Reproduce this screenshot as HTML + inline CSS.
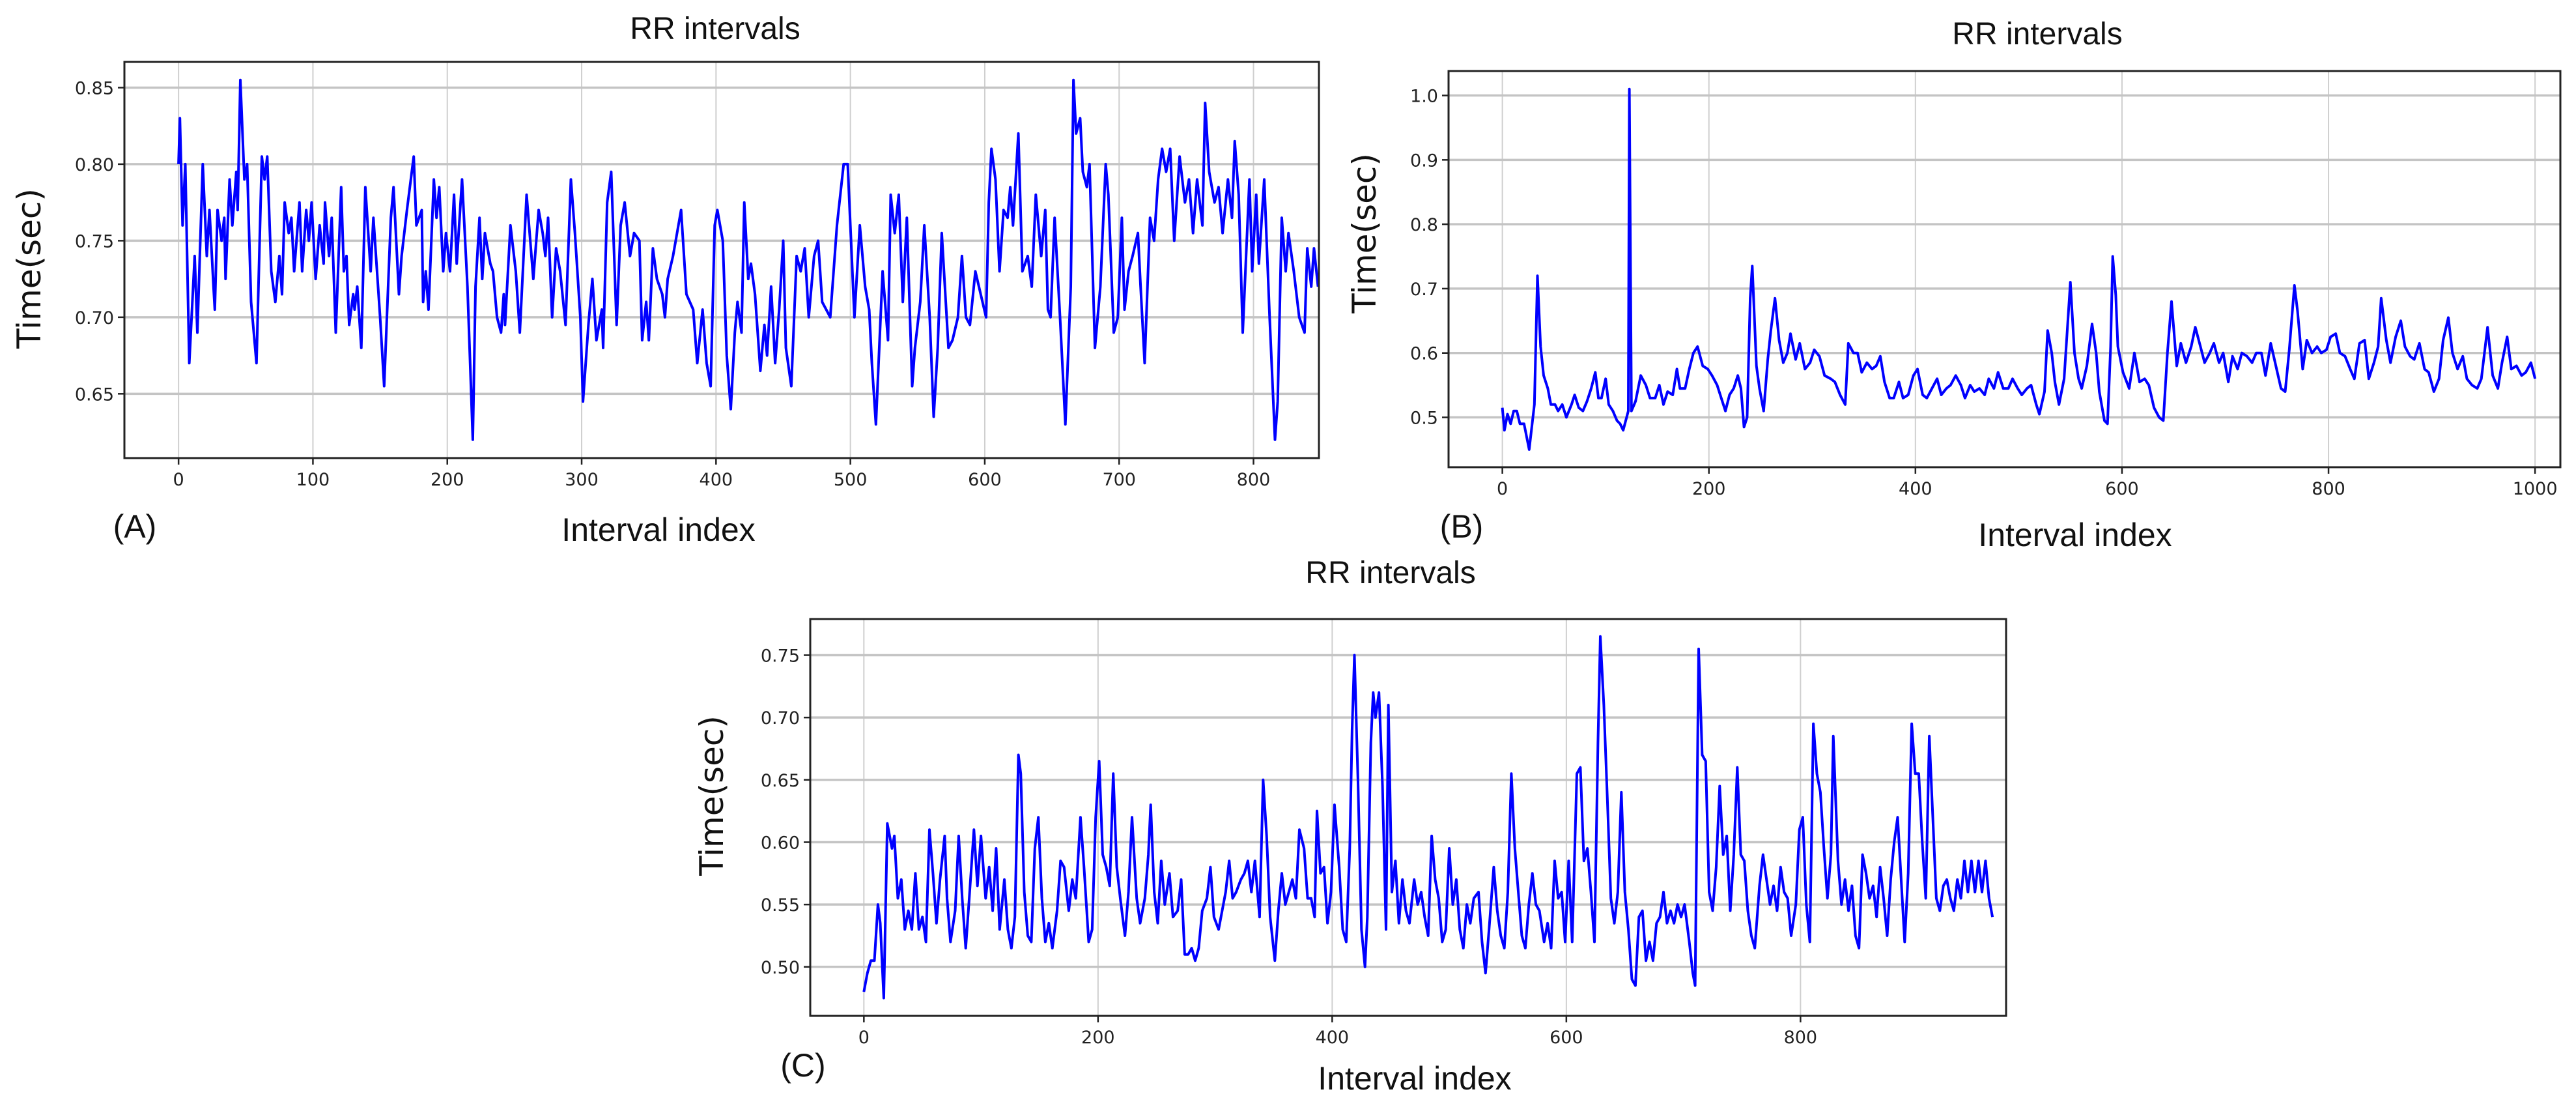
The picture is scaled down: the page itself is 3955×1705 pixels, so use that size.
<!DOCTYPE html>
<html><head><meta charset="utf-8">
<style>
html,body{margin:0;padding:0;background:#fff;}
svg{display:block;}
</style></head>
<body>
<svg id="fig" width="3955" height="1705" viewBox="0 0 3955 1705" xmlns="http://www.w3.org/2000/svg"></svg>
<script>
// ---- Panel A data ----
const idxA=[0,1,3,5,8,12,14,18,21,23,26,27,29,32,34,35,38,40,43,44,46,49,51,54,58,62,64,66,69,72,75,77,79,82,84,86,90,92,95,97,99,102,105,108,109,112,114,117,121,123,125,127,130,131,133,136,139,143,145,150,153,158,160,164,166,170,175,177,181,182,184,186,190,192,194,197,199,202,205,207,211,215,219,221,224,226,228,232,234,237,240,242,243,247,251,254,259,264,268,271,273,275,278,281,284,288,292,295,299,301,305,308,311,315,316,319,322,326,329,332,336,339,343,345,348,350,353,356,360,362,364,368,371,374,378,383,386,390,393,396,399,401,405,408,411,414,416,419,421,424,426,429,433,436,438,441,444,447,450,452,456,460,463,466,469,473,476,479,482,485,490,495,498,500,503,507,511,514,516,519,524,528,530,533,536,539,542,546,548,552,555,559,562,565,568,573,576,580,583,586,589,593,597,601,603,605,608,611,614,617,619,621,625,628,632,635,638,642,645,647,649,652,656,660,664,666,668,671,673,676,678,682,686,690,692,696,699,702,704,707,710,714,716,719,723,726,729,732,735,738,741,745,749,752,755,758,762,764,767,771,774,777,781,784,786,789,792,797,799,802,804,808,812,816,818,821,824,826,830,834,838,840,843,845,848];
const valA=[.80,.83,.76,.80,.67,.74,.69,.80,.74,.77,.72,.705,.77,.75,.765,.725,.79,.76,.795,.77,.855,.79,.80,.71,.67,.805,.79,.805,.73,.71,.74,.715,.775,.755,.765,.73,.775,.73,.77,.75,.775,.725,.76,.735,.775,.74,.765,.69,.785,.73,.74,.695,.715,.705,.72,.68,.785,.73,.765,.70,.655,.765,.785,.715,.74,.77,.805,.76,.77,.71,.73,.705,.79,.765,.785,.73,.755,.73,.78,.735,.79,.72,.62,.72,.765,.725,.755,.735,.73,.70,.69,.715,.695,.76,.73,.69,.78,.725,.77,.755,.74,.765,.70,.745,.73,.695,.79,.755,.70,.645,.695,.725,.685,.705,.68,.775,.795,.695,.76,.775,.74,.755,.75,.685,.71,.685,.745,.725,.715,.70,.725,.74,.755,.77,.715,.705,.67,.705,.67,.655,.76,.77,.75,.675,.64,.69,.71,.69,.775,.725,.735,.715,.665,.695,.675,.72,.67,.705,.75,.68,.655,.74,.73,.745,.70,.74,.75,.71,.705,.70,.76,.80,.80,.76,.70,.76,.72,.705,.67,.63,.73,.685,.78,.755,.78,.71,.765,.655,.68,.71,.76,.70,.635,.68,.755,.68,.685,.70,.74,.70,.695,.73,.715,.70,.775,.81,.79,.73,.77,.765,.785,.76,.82,.73,.74,.72,.78,.74,.77,.705,.70,.765,.70,.63,.72,.855,.82,.83,.795,.785,.80,.68,.72,.80,.78,.69,.70,.765,.705,.73,.74,.755,.72,.67,.765,.75,.79,.81,.795,.81,.75,.805,.775,.79,.755,.79,.76,.84,.795,.775,.785,.755,.79,.765,.815,.78,.69,.79,.73,.78,.735,.79,.70,.62,.645,.765,.73,.755,.73,.70,.69,.745,.72,.745,.72];
const ticksAx=[0,100,200,300,400,500,600,700,800];
const ticksAy=[0.65,0.70,0.75,0.80,0.85];
const labelsAy=["0.65","0.70","0.75","0.80","0.85"];

// ---- Panel B data ----
const idxB=[0,2,5,8,11,14,17,21,26,31,34,37,40,44,47,51,54,58,62,67,70,74,78,82,86,90,93,96,100,103,107,111,114,117,122,123,125,129,134,139,143,148,152,156,160,165,169,172,177,181,185,189,194,199,203,208,212,216,220,224,228,231,234,237,240,242,246,249,253,257,260,264,268,272,276,279,284,288,293,298,302,307,312,318,322,327,332,335,340,344,348,353,358,362,366,370,375,379,384,388,393,398,402,407,411,416,421,425,430,434,439,444,448,453,457,462,467,471,476,480,485,490,494,499,503,508,512,517,520,525,528,532,535,539,544,550,554,558,561,566,571,575,578,583,586,589,591,594,596,601,607,612,617,622,626,631,636,640,644,648,653,657,662,667,671,676,680,685,689,694,698,703,707,712,716,721,726,730,735,739,744,749,754,758,762,767,770,775,779,784,789,793,798,802,807,811,816,821,825,830,835,839,844,848,851,856,860,865,870,874,879,883,888,893,897,902,907,911,916,920,925,930,934,939,944,948,954,959,964,968,973,977,982,987,991,996,1000];
const valB=[.515,.48,.505,.49,.51,.51,.49,.49,.45,.52,.72,.61,.565,.545,.52,.52,.51,.52,.50,.52,.535,.515,.51,.525,.545,.57,.53,.53,.56,.52,.51,.495,.49,.48,.51,1.01,.51,.525,.565,.55,.53,.53,.55,.52,.54,.535,.575,.545,.545,.575,.60,.61,.58,.575,.565,.55,.53,.51,.535,.545,.565,.545,.485,.50,.685,.735,.58,.545,.51,.59,.635,.685,.62,.585,.60,.63,.59,.615,.575,.585,.605,.595,.565,.56,.555,.535,.52,.615,.60,.60,.57,.585,.575,.58,.595,.555,.53,.53,.555,.53,.535,.565,.575,.535,.53,.545,.56,.535,.545,.55,.565,.55,.53,.55,.54,.545,.535,.56,.545,.57,.545,.545,.56,.545,.535,.545,.55,.52,.505,.54,.635,.60,.555,.52,.56,.71,.60,.56,.545,.58,.645,.60,.54,.495,.49,.61,.75,.69,.61,.57,.545,.60,.555,.56,.55,.515,.50,.495,.60,.68,.58,.615,.585,.61,.64,.61,.585,.60,.615,.585,.60,.555,.595,.575,.60,.595,.585,.60,.60,.565,.615,.58,.545,.54,.605,.705,.665,.575,.62,.60,.61,.60,.605,.625,.63,.60,.595,.575,.56,.615,.62,.56,.585,.61,.685,.62,.585,.625,.65,.61,.595,.59,.615,.575,.57,.54,.56,.62,.655,.60,.575,.595,.56,.55,.545,.56,.64,.565,.545,.585,.625,.575,.58,.565,.57,.585,.56];
const ticksBx=[0,200,400,600,800,1000];
const ticksBy=[0.5,0.6,0.7,0.8,0.9,1.0];
const labelsBy=["0.5","0.6","0.7","0.8","0.9","1.0"];

// ---- Panel C data ----
const idxC=[0,3,6,9,12,14,17,20,24,26,29,32,35,38,41,44,47,50,53,56,59,62,65,69,71,74,78,81,84,87,90,94,97,100,104,107,110,113,116,120,123,126,129,132,134,137,140,143,146,149,152,155,158,161,165,168,171,175,178,181,185,188,192,195,198,201,204,207,210,213,216,219,223,226,229,233,236,240,243,245,248,251,254,257,261,264,268,271,274,277,280,283,286,289,293,296,299,303,306,309,312,315,318,322,325,328,331,334,338,341,344,347,351,354,357,360,363,366,369,372,376,379,382,385,387,390,393,396,399,402,406,409,412,415,417,419,422,425,428,430,433,435,437,440,443,446,448,451,454,457,460,463,466,470,473,476,479,482,485,488,491,494,497,500,503,506,509,512,515,518,521,525,528,531,534,538,541,544,547,550,553,556,559,562,565,568,571,574,577,581,584,587,590,593,596,599,602,605,609,612,615,618,621,624,627,629,632,635,638,641,644,647,650,653,656,659,662,665,668,671,674,677,680,683,686,689,692,695,698,701,705,708,710,713,716,719,722,725,728,731,734,737,740,743,746,749,752,755,758,761,765,768,771,774,777,780,783,786,789,792,796,799,802,805,808,811,814,817,820,823,826,828,832,835,838,841,844,847,850,853,856,859,862,865,868,871,874,877,880,883,886,889,892,895,898,901,904,907,910,913,916,919,922,925,928,931,934,937,940,943,946,949,952,955,958,961,964];
const valC=[.48,.495,.505,.505,.55,.535,.475,.615,.595,.605,.555,.57,.53,.545,.53,.575,.53,.54,.52,.61,.575,.535,.57,.605,.555,.52,.545,.605,.555,.515,.555,.61,.565,.605,.555,.58,.545,.595,.53,.57,.53,.515,.54,.67,.655,.56,.525,.52,.595,.62,.555,.52,.535,.515,.545,.585,.58,.545,.57,.555,.62,.58,.52,.53,.62,.665,.59,.58,.565,.655,.58,.555,.525,.56,.62,.555,.535,.555,.59,.63,.56,.535,.585,.55,.575,.54,.545,.57,.51,.51,.515,.505,.515,.545,.555,.58,.54,.53,.545,.56,.585,.555,.56,.57,.575,.585,.56,.585,.54,.65,.605,.54,.505,.545,.575,.55,.56,.57,.555,.61,.595,.555,.555,.54,.625,.575,.58,.535,.56,.63,.58,.53,.52,.595,.69,.75,.65,.53,.50,.54,.68,.72,.70,.72,.645,.53,.71,.56,.585,.535,.57,.545,.535,.57,.55,.56,.54,.525,.605,.57,.555,.52,.53,.595,.55,.57,.53,.515,.55,.535,.555,.56,.52,.495,.53,.58,.545,.525,.515,.56,.655,.595,.56,.525,.515,.55,.575,.55,.545,.52,.535,.515,.585,.555,.56,.52,.585,.52,.655,.66,.585,.595,.56,.52,.68,.765,.71,.635,.555,.535,.56,.64,.56,.53,.49,.485,.54,.545,.505,.52,.505,.535,.54,.56,.535,.545,.535,.55,.54,.55,.52,.495,.485,.755,.67,.665,.56,.545,.58,.645,.59,.605,.545,.59,.66,.59,.585,.545,.525,.515,.565,.59,.57,.55,.565,.545,.58,.56,.555,.525,.55,.61,.62,.55,.52,.695,.655,.64,.595,.555,.59,.685,.585,.55,.57,.545,.565,.525,.515,.59,.575,.555,.565,.54,.58,.555,.525,.57,.60,.62,.57,.52,.575,.695,.655,.655,.60,.555,.685,.62,.555,.545,.565,.57,.555,.545,.57,.555,.585,.56,.585,.56,.585,.56,.585,.555,.54];
const ticksCx=[0,200,400,600,800];
const ticksCy=[0.50,0.55,0.60,0.65,0.70,0.75];
const labelsCy=["0.50","0.55","0.60","0.65","0.70","0.75"];

const NS="http://www.w3.org/2000/svg";
const svg=document.getElementById('fig');
function mk(tag,attrs,parent){const e=document.createElementNS(NS,tag);for(const k in attrs)e.setAttribute(k,attrs[k]);(parent||svg).appendChild(e);return e;}

function panel(p){
  const g=mk('g',{});
  
  
  const sx=v=>p.L+(v-p.x0)/(p.x1-p.x0)*(p.R-p.L);
  const sy=v=>p.B-(v-p.y0)/(p.y1-p.y0)*(p.B-p.T);
  p.tx.forEach(t=>{const l=mk('line',{x1:sx(t),x2:sx(t),y1:p.T,y2:p.B,stroke:'#cfcfcf','stroke-width':2},g);
    });
  p.ty.forEach(t=>{const l=mk('line',{x1:p.L,x2:p.R,y1:sy(t),y2:sy(t),stroke:'#c4c4c4','stroke-width':3.5},g);
    });
  const d=p.xs.map((x,i)=>(i?'L':'M')+sx(x).toFixed(1)+' '+sy(p.ys[i]).toFixed(1)).join(' ');
  const path=mk('path',{d:d,fill:'none',stroke:'#0000ff','stroke-width':4,'stroke-linejoin':'round'},g);
  
  
  const fr=mk('rect',{x:p.L,y:p.T,width:p.R-p.L,height:p.B-p.T,fill:'none',stroke:'#222','stroke-width':3},g);
  
  p.tx.forEach(t=>{mk('line',{x1:sx(t),x2:sx(t),y1:p.B,y2:p.B+10,stroke:'#222','stroke-width':2.5},g);
    const tt=mk('text',{x:sx(t),y:p.B+42,'text-anchor':'middle','font-family':'"DejaVu Sans",sans-serif','font-size':27,fill:'#222'},g);
    tt.textContent=t;});
  p.ty.forEach((t,i)=>{mk('line',{x1:p.L-10,x2:p.L,y1:sy(t),y2:sy(t),stroke:'#222','stroke-width':2.5},g);
    const tt=mk('text',{x:p.L-16,y:sy(t)+10,'text-anchor':'end','font-family':'"DejaVu Sans",sans-serif','font-size':27,fill:'#222'},g);
    tt.textContent=p.ly[i];});
  const ti=mk('text',{x:p.titleX,y:p.titleY,'text-anchor':'middle','font-family':'"Liberation Sans",sans-serif','font-size':48,fill:'#111'},g);
  ti.textContent='RR intervals';
  const xl=mk('text',{x:p.xlX,y:p.xlY,'text-anchor':'middle','font-family':'"Liberation Sans",sans-serif','font-size':50,fill:'#111'},g);
  xl.textContent='Interval index';
  const yl=mk('text',{x:p.ylX,y:p.ylY,'text-anchor':'middle','font-family':'"DejaVu Sans",sans-serif','font-size':50,fill:'#111',transform:`rotate(-90 ${p.ylX} ${p.ylY})`},g);
  yl.textContent='Time(sec)';
  const pl=mk('text',{x:p.plX,y:p.plY,'text-anchor':'middle','font-family':'"Liberation Sans",sans-serif','font-size':50,fill:'#111'},g);
  pl.textContent=p.plabel;
}

panel({name:'panel-a',L:191,R:2025,T:95,B:703,x0:-40.3,x1:848.7,y0:0.608,y1:0.8668,xs:idxA,ys:valA,tx:ticksAx,ty:ticksAy,ly:labelsAy,
  titleX:1098,titleY:60,xlX:1011,xlY:830,ylX:62,ylY:412,plX:207,plY:825,plabel:'(A)'});
panel({name:'panel-b',L:2224,R:3931,T:109,B:717,x0:-52.1,x1:1024.5,y0:0.4226,y1:1.038,xs:idxB,ys:valB,tx:ticksBx,ty:ticksBy,ly:labelsBy,
  titleX:3128,titleY:68,xlX:3186,xlY:838,ylX:2112,ylY:358,plX:2244,plY:825,plabel:'(B)'});
panel({name:'panel-c',L:1244,R:3080,T:950,B:1559,x0:-45.8,x1:975.6,y0:0.4607,y1:0.779,xs:idxC,ys:valC,tx:ticksCx,ty:ticksCy,ly:labelsCy,
  titleX:2135,titleY:895,xlX:2172,xlY:1672,ylX:1110,ylY:1221,plX:1233,plY:1652,plabel:'(C)'});
</script>
</body></html>
